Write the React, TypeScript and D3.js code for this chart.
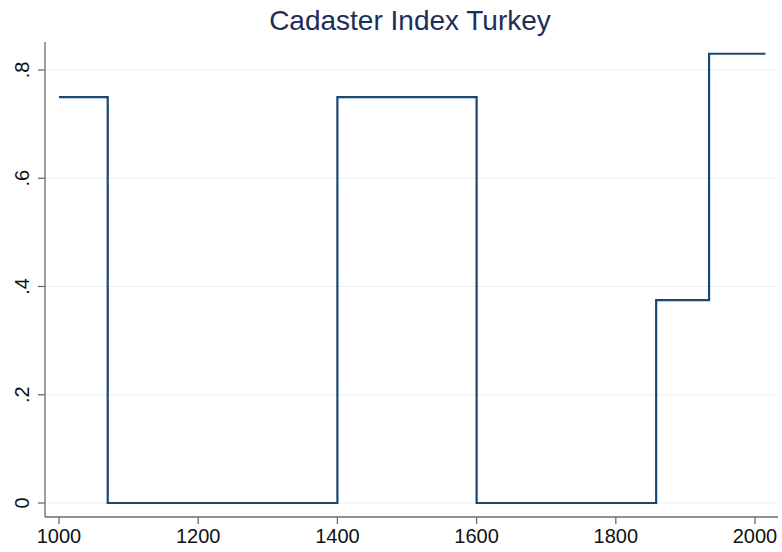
import * as d3 from "d3"

const years = [1000, 1070, 1400, 1600, 1858, 1934, 2015]
const values = [0.75, 0, 0.75, 0, 0.375, 0.83, 0.83]
const xTicks = [1000, 1200, 1400, 1600, 1800, 2000]
const yTicks = [0, 0.2, 0.4, 0.6, 0.8]
const yTickLabels = ["0", ".2", ".4", ".6", ".8"]

export default function App() {
  const width = 782
  const height = 552
  const left = 45
  const right = 778
  const top = 42
  const bottom = 517

  const x = d3.scaleLinear().domain([1000, 2000]).range([59, 755])
  const y = d3.scaleLinear().domain([0, 0.8]).range([503, 70])

  const pts: [number, number][] = years.map((yr, i) => [yr, values[i]])
  const line = d3
    .line<[number, number]>()
    .x((d) => x(d[0]))
    .y((d) => y(d[1]))
    .curve(d3.curveStepAfter)

  const font = "Arial, 'Liberation Sans', sans-serif"

  return (
    <svg
      width={width}
      height={height}
      style={{ position: "absolute", left: 0, top: 0, background: "#fff" }}
      fontFamily={font}
    >
      <text x={410} y={30} textAnchor="middle" fontSize={28} fill="#1e2d5a">
        Cadaster Index Turkey
      </text>

      {/* grid */}
      {yTicks.map((t) => (
        <line key={"g" + t} x1={left} x2={right} y1={y(t)} y2={y(t)} stroke="#eaf0f2" strokeWidth={1.2} />
      ))}

      {/* y axis */}
      <line x1={left} x2={left} y1={top} y2={bottom} stroke="#6b6b6b" strokeWidth={1.3} />
      {yTicks.map((t, i) => (
        <g key={"y" + t}>
          <line x1={left - 7} x2={left} y1={y(t)} y2={y(t)} stroke="#6b6b6b" strokeWidth={1.3} />
          <text
            transform={`translate(29,${y(t)}) rotate(-90)`}
            textAnchor="middle"
            fontSize={20}
            fill="#111"
          >
            {yTickLabels[i]}
          </text>
        </g>
      ))}

      {/* x axis */}
      <line x1={left} x2={right} y1={bottom} y2={bottom} stroke="#6b6b6b" strokeWidth={1.3} />
      {xTicks.map((t) => (
        <g key={"x" + t}>
          <line x1={x(t)} x2={x(t)} y1={bottom} y2={bottom + 7} stroke="#6b6b6b" strokeWidth={1.3} />
          <text x={x(t)} y={543} textAnchor="middle" fontSize={20} fill="#111">
            {t}
          </text>
        </g>
      ))}

      <path d={line(pts) ?? ""} fill="none" stroke="#1a476f" strokeWidth={2.2} />
    </svg>
  )
}
